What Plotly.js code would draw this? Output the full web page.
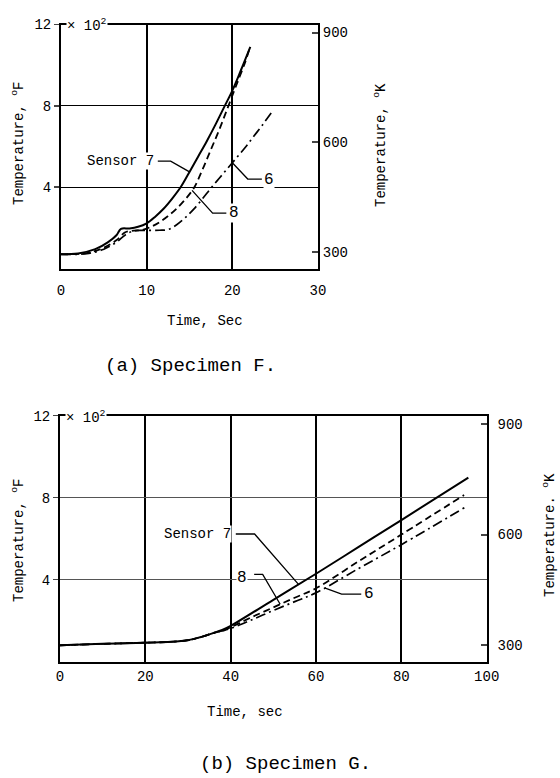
<!DOCTYPE html>
<html>
<head>
<meta charset="utf-8">
<script src="https://cdn.plot.ly/plotly-3.0.1.min.js"></script>
<style>html,body{margin:0;padding:0;background:#fff;}#chart{width:560px;height:778px;}</style>
</head>
<body>
<div id="chart"></div>
<script>
// ---------- Data (temperature in hundreds of deg F) ----------
// (a) Specimen F
const tF_s7 = [0, 2, 4, 5.5, 6.5, 7, 8, 9, 10, 11, 12, 13, 14, 15, 16, 17, 18, 19, 20, 21, 22.1];
const F_s7  = [0.70, 0.74, 0.95, 1.30, 1.65, 1.95, 1.97, 2.05, 2.22, 2.55, 2.95, 3.45, 4.02, 4.75, 5.50, 6.25, 7.05, 7.90, 8.75, 9.75, 10.90];
const tF_s8 = [0, 3, 5, 6.5, 7.5, 8.5, 9.5, 10.5, 11.5, 12.5, 13.5, 14.5, 15.5, 16.5, 17.5, 18.5, 19.5, 20.5, 21.5, 22];
const F_s8  = [0.70, 0.76, 1.02, 1.40, 1.78, 1.86, 1.90, 2.05, 2.28, 2.58, 2.95, 3.40, 3.95, 4.85, 5.85, 6.85, 7.95, 9.05, 10.15, 10.80];
const tF_s6 = [0, 3, 5, 6.5, 7.5, 8.5, 10, 11.5, 12.5, 13.5, 14.5, 15.5, 16.5, 17.5, 18.5, 19.5, 20.5, 21.5, 22.5, 23.5, 24.8];
const F_s6  = [0.70, 0.73, 0.95, 1.30, 1.65, 1.85, 1.87, 1.88, 1.92, 2.15, 2.50, 2.92, 3.42, 3.95, 4.45, 4.95, 5.45, 5.95, 6.50, 7.05, 7.80];
// (b) Specimen G
const tG_s7 = [0, 10, 20, 26, 30, 33, 36, 38, 40, 50, 60, 70, 80, 95.7];
const G_s7  = [0.80, 0.87, 0.93, 0.97, 1.05, 1.20, 1.40, 1.55, 1.75, 3.02, 4.29, 5.60, 6.91, 8.98];
const tG_s8 = [0, 10, 20, 26, 30, 33, 36, 38, 40, 45, 50, 55, 60, 70, 80, 94.7];
const G_s8  = [0.80, 0.87, 0.93, 0.97, 1.05, 1.20, 1.40, 1.52, 1.68, 2.18, 2.65, 3.12, 3.58, 4.90, 6.20, 8.13];
const tG_s6 = [0, 10, 20, 26, 30, 33, 36, 38, 40, 45, 50, 55, 60, 70, 80, 94.9];
const G_s6  = [0.80, 0.87, 0.93, 0.97, 1.05, 1.20, 1.40, 1.50, 1.62, 2.05, 2.50, 2.93, 3.36, 4.55, 5.71, 7.53];

// Tick labels
const xTicksF = [0, 10, 20, 30];
const xTicksG = [0, 20, 40, 60, 80, 100];
const yTicksF = [4, 8, 12];
const yTicksK = [300, 600, 900];
const yRangeF = [0, 12];

// ---------- helpers ----------
function toK(h) { return (h * 100 - 32) * 5 / 9 + 273.15; }
function interp(ts, vs, t) {
  for (let i = 1; i < ts.length; i++) {
    if (t <= ts[i]) { const f = (t - ts[i-1]) / (ts[i] - ts[i-1]); return vs[i-1] + f * (vs[i] - vs[i-1]); }
  }
  return vs[vs.length - 1];
}
const FONT = "'Courier New', 'Nimbus Mono PS', FreeMono, 'Liberation Mono', monospace";
const W = 560, H = 778;
const px = v => v / W, py = v => 1 - v / H;

const solid = {color: '#000', width: 2, shape: 'spline'};
const dashed = {color: '#000', width: 1.8, dash: '7px,4px', shape: 'spline'};
const dashdot = {color: '#000', width: 1.7, dash: '10px,4px,2px,4px', shape: 'spline'};

const traces = [
  {x: tF_s7, y: F_s7, xaxis: 'x', yaxis: 'y', mode: 'lines', line: solid, hoverinfo: 'skip'},
  {x: tF_s8, y: F_s8, xaxis: 'x', yaxis: 'y', mode: 'lines', line: dashed, hoverinfo: 'skip'},
  {x: tF_s6, y: F_s6, xaxis: 'x', yaxis: 'y', mode: 'lines', line: dashdot, hoverinfo: 'skip'},
  {x: tG_s7, y: G_s7, xaxis: 'x2', yaxis: 'y3', mode: 'lines', line: solid, hoverinfo: 'skip'},
  {x: tG_s8, y: G_s8, xaxis: 'x2', yaxis: 'y3', mode: 'lines', line: dashed, hoverinfo: 'skip'},
  {x: tG_s6, y: G_s6, xaxis: 'x2', yaxis: 'y3', mode: 'lines', line: dashdot, hoverinfo: 'skip'},
  // invisible companions for Kelvin axes
  {x: tF_s7, y: F_s7.map(toK), xaxis: 'x', yaxis: 'y2', mode: 'lines', opacity: 0, hoverinfo: 'skip'},
  {x: tG_s7, y: G_s7.map(toK), xaxis: 'x2', yaxis: 'y4', mode: 'lines', opacity: 0, hoverinfo: 'skip'}
];

const tickFont = {family: FONT, size: 14, color: '#000'};
const axBase = {showline: true, linecolor: '#000', linewidth: 2, zeroline: false, tickfont: tickFont, fixedrange: true};

const layout = {
  width: W, height: H, showlegend: false,
  margin: {l: 0, r: 0, t: 0, b: 0},
  paper_bgcolor: '#fff', plot_bgcolor: '#fff',
  font: {family: FONT, color: '#000'},
  xaxis: Object.assign({}, axBase, {domain: [px(61), px(318)], anchor: 'y', range: [0, 30], tickvals: xTicksF, ticks: '',
    mirror: true, showgrid: true, gridcolor: '#000', gridwidth: 2, ticklabelstandoff: 8}),
  yaxis: Object.assign({}, axBase, {domain: [py(268.5), py(24.5)], anchor: 'x', range: yRangeF, tickvals: yTicksF,
    ticks: 'outside', ticklen: 5, tickwidth: 1.5, mirror: true, showgrid: true, gridcolor: '#000', gridwidth: 1}),
  yaxis2: Object.assign({}, axBase, {overlaying: 'y', side: 'right', anchor: 'x', range: yRangeF.map(toK), tickvals: yTicksK,
    ticks: 'inside', ticklen: 6, tickwidth: 2, showgrid: false, ticklabelstandoff: 0}),
  xaxis2: Object.assign({}, axBase, {domain: [px(60), px(486.7)], anchor: 'y3', range: [0, 100], tickvals: xTicksG, ticks: '',
    mirror: true, showgrid: true, gridcolor: '#000', gridwidth: 2, ticklabelstandoff: 0}),
  yaxis3: Object.assign({}, axBase, {domain: [py(661.7), py(415.7)], anchor: 'x2', range: yRangeF, tickvals: yTicksF,
    ticks: 'outside', ticklen: 5, tickwidth: 1.5, mirror: true, showgrid: true, gridcolor: '#555', gridwidth: 1}),
  yaxis4: Object.assign({}, axBase, {overlaying: 'y3', side: 'right', anchor: 'x2', range: yRangeF.map(toK), tickvals: yTicksK,
    ticks: 'inside', ticklen: 6, tickwidth: 2, showgrid: false, ticklabelstandoff: 6}),
  shapes: [],
  annotations: []
};

const lbl = (xref, yref, x, y, text, xanchor, size) => ({xref, yref, x, y, text, xanchor: xanchor || 'center', yanchor: 'middle',
  showarrow: false, font: {family: FONT, size: size || 14, color: '#000'}, bgcolor: '#fff', borderpad: 0});
const path = (xref, yref, pts) => ({type: 'path', xref, yref, layer: 'above', line: {color: '#000', width: 1.3},
  path: pts.map((p, i) => (i ? 'L' : 'M') + p[0] + ',' + p[1]).join(' ')});

// ---- Leaders & labels, (a)
layout.annotations.push(lbl('x', 'y', 11.0, 5.28, 'Sensor 7', 'right', 14));
layout.shapes.push(path('x', 'y', [[11.3, 5.28], [12.8, 5.28], [15.0, interp(tF_s7, F_s7, 15.0)]]));
layout.annotations.push(lbl('x', 'y', 19.5, 2.72, '8', 'left', 16));
layout.shapes.push(path('x', 'y', [[15.3, interp(tF_s8, F_s8, 15.3)], [17.7, 2.72], [19.3, 2.72]]));
layout.annotations.push(lbl('x', 'y', 23.6, 4.35, '6', 'left', 16));
layout.shapes.push(path('x', 'y', [[20.0, interp(tF_s6, F_s6, 20.0)], [21.8, 4.4], [23.45, 4.4]]));

// ---- Leaders & labels, (b)
layout.annotations.push(lbl('x2', 'y3', 40.4, 6.23, 'Sensor 7', 'right', 14));
layout.shapes.push(path('x2', 'y3', [[41.2, 6.23], [45.6, 6.23], [55.9, interp(tG_s7, G_s7, 55.9)]]));
layout.annotations.push(lbl('x2', 'y3', 42.6, 4.1, '8', 'center', 16));
layout.shapes.push(path('x2', 'y3', [[45.5, 4.26], [47.5, 4.26], [51.6, interp(tG_s8, G_s8, 51.6)]]));
layout.annotations.push(lbl('x2', 'y3', 71.0, 3.3, '6', 'left', 16));
layout.shapes.push(path('x2', 'y3', [[62.0, interp(tG_s6, G_s6, 62.0)], [66.0, 3.3], [70.6, 3.3]]));

// ---- x 10^2 multipliers
layout.annotations.push(lbl('paper', 'paper', px(66), py(25), '\u00d7 10<sup>2</sup>', 'left', 14));
layout.annotations.push(lbl('paper', 'paper', px(65), py(416.5), '\u00d7 10<sup>2</sup>', 'left', 14));

// ---- axis titles & captions
const ttl = (x, y, text, size, angle) => ({xref: 'paper', yref: 'paper', x: px(x), y: py(y), text, showarrow: false,
  xanchor: 'center', yanchor: 'middle', textangle: angle || 0, font: {family: FONT, size: size, color: '#000'}});
layout.annotations.push(ttl(18, 143, 'Temperature, <sup>o</sup>F', 14, -90));
layout.annotations.push(ttl(380, 145, 'Temperature, <sup>o</sup>K', 14, -90));
layout.annotations.push(ttl(205, 321, 'Time, Sec', 14));
layout.annotations.push(ttl(190, 366, '(a) Specimen F.', 19));
layout.annotations.push(ttl(18, 540, 'Temperature, <sup>o</sup>F', 14, -90));
layout.annotations.push(ttl(549, 535, 'Temperature. <sup>o</sup>K', 14, -90));
layout.annotations.push(ttl(245, 712, 'Time, sec', 14));
layout.annotations.push(ttl(285, 764, '(b) Specimen G.', 19));

Plotly.newPlot('chart', traces, layout, {staticPlot: true, displayModeBar: false});
</script>
</body>
</html>
